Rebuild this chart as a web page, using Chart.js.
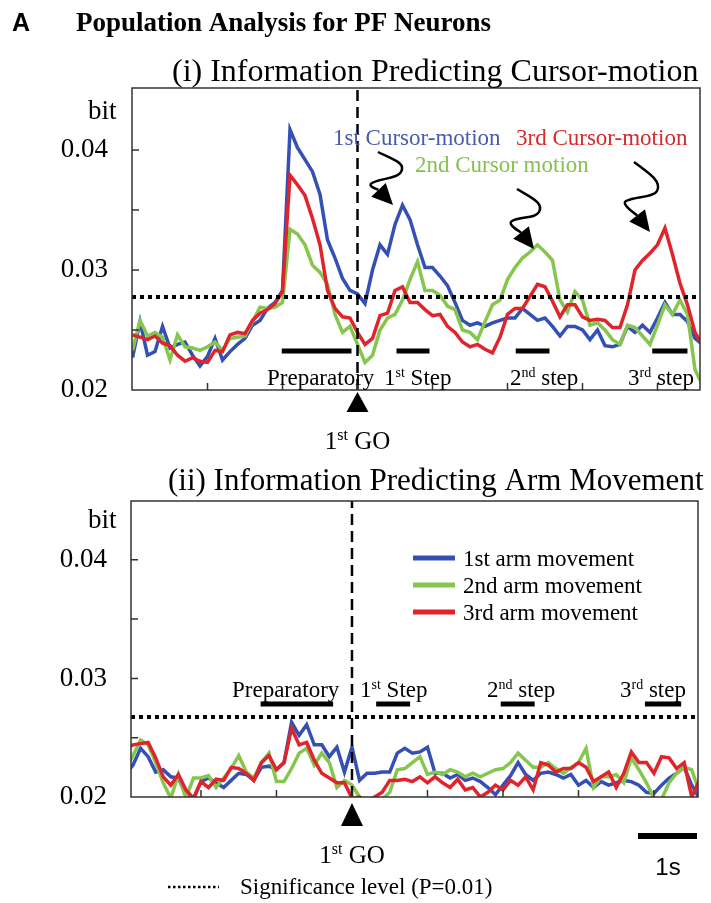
<!DOCTYPE html>
<html>
<head>
<meta charset="utf-8">
<script src="https://cdn.jsdelivr.net/npm/chart.js@4"></script>
<style>
  html, body { margin: 0; padding: 0; background: #fff; }
  #wrap { position: relative; width: 711px; height: 903px; }
  canvas { position: absolute; left: 0; }
  #cursorChart { top: 0; }
  #armChart { top: 460px; }
</style>
</head>
<body>
<div id="wrap">
  <canvas id="cursorChart" width="711" height="460"></canvas>
  <canvas id="armChart" width="711" height="443"></canvas>
</div>
<script>
// time axis in tick units, 1st GO at 0
const time = [
  -3.0, -2.9, -2.8, -2.7, -2.6, -2.5, -2.4, -2.3, -2.2, -2.1,
  -2.0, -1.9, -1.8, -1.7, -1.6, -1.5, -1.4, -1.3, -1.2, -1.1,
  -1.0, -0.9, -0.8, -0.7, -0.6, -0.5, -0.4, -0.3, -0.2, -0.1,
  0.0, 0.1, 0.2, 0.3, 0.4, 0.5, 0.6, 0.7, 0.8, 0.9,
  1.0, 1.1, 1.2, 1.3, 1.4, 1.5, 1.6, 1.7, 1.8, 1.9,
  2.0, 2.1, 2.2, 2.3, 2.4, 2.5, 2.6, 2.7, 2.8, 2.9,
  3.0, 3.1, 3.2, 3.3, 3.4, 3.5, 3.6, 3.7, 3.8, 3.9,
  4.0, 4.1, 4.2, 4.3, 4.4, 4.5, 4.6
];

// (i) information predicting cursor-motion (bit)
const cursor1 = [
  0.0227, 0.0257, 0.0229, 0.0232, 0.0253, 0.0235, 0.0238, 0.0240, 0.0229, 0.0220,
  0.0228, 0.0243, 0.0225, 0.0232, 0.0238, 0.0243, 0.0254, 0.0258, 0.0268, 0.0273,
  0.0283, 0.0417, 0.0402, 0.0392, 0.0382, 0.0363, 0.0325, 0.0310, 0.0293, 0.0283,
  0.0280, 0.0272, 0.0300, 0.0321, 0.0313, 0.0338, 0.0354, 0.0342, 0.0321, 0.0302,
  0.0302, 0.0295, 0.0287, 0.0273, 0.0258, 0.0254, 0.0256, 0.0253, 0.0256, 0.0258,
  0.0260, 0.0260, 0.0268, 0.0263, 0.0258, 0.0260, 0.0253, 0.0245, 0.0253, 0.0253,
  0.0250, 0.0242, 0.0250, 0.0237, 0.0236, 0.0238, 0.0253, 0.0248, 0.0254, 0.0248,
  0.0260, 0.0273, 0.0263, 0.0263, 0.0257, 0.0243, 0.0238
];
const cursor2 = [
  0.0233, 0.0258, 0.0245, 0.0248, 0.0244, 0.0225, 0.0246, 0.0236, 0.0235, 0.0233,
  0.0236, 0.0240, 0.0233, 0.0243, 0.0244, 0.0245, 0.0257, 0.0269, 0.0268, 0.0269,
  0.0273, 0.0334, 0.0330, 0.0321, 0.0304, 0.0298, 0.0288, 0.0263, 0.0248, 0.0253,
  0.0238, 0.0223, 0.0229, 0.0250, 0.0260, 0.0263, 0.0275, 0.0292, 0.0307, 0.0283,
  0.0283, 0.0279, 0.0270, 0.0267, 0.0250, 0.0248, 0.0242, 0.0257, 0.0271, 0.0275,
  0.0292, 0.0302, 0.0310, 0.0315, 0.0321, 0.0315, 0.0308, 0.0275, 0.0265, 0.0282,
  0.0275, 0.0254, 0.0256, 0.0250, 0.0242, 0.0238, 0.0254, 0.0252, 0.0245, 0.0238,
  0.0254, 0.0271, 0.0263, 0.0275, 0.0263, 0.0217, 0.0204
];
const cursor3 = [
  0.0246, 0.0244, 0.0242, 0.0245, 0.0239, 0.0237, 0.0229, 0.0224, 0.0227, 0.0224,
  0.0223, 0.0233, 0.0232, 0.0246, 0.0248, 0.0247, 0.0258, 0.0264, 0.0267, 0.0272,
  0.0282, 0.0379, 0.0371, 0.0362, 0.0343, 0.0321, 0.0283, 0.0268, 0.0261, 0.0260,
  0.0248, 0.0238, 0.0243, 0.0262, 0.0264, 0.0283, 0.0286, 0.0273, 0.0273, 0.0267,
  0.0262, 0.0263, 0.0253, 0.0248, 0.0240, 0.0236, 0.0238, 0.0234, 0.0231, 0.0244,
  0.0263, 0.0268, 0.0268, 0.0278, 0.0288, 0.0286, 0.0274, 0.0261, 0.0271, 0.0271,
  0.0261, 0.0258, 0.0259, 0.0258, 0.0252, 0.0252, 0.0271, 0.0300, 0.0308, 0.0314,
  0.0321, 0.0335, 0.0313, 0.0289, 0.0271, 0.0248, 0.0238
];

// (ii) information predicting arm movement (bit)
const arm1 = [
  0.0219, 0.0227, 0.0241, 0.0234, 0.0221, 0.0223, 0.0217, 0.0216, 0.0202, 0.0198,
  0.0213, 0.0216, 0.0212, 0.0208, 0.0214, 0.0220, 0.0219, 0.0214, 0.0225, 0.0226,
  0.0223, 0.0229, 0.0263, 0.0252, 0.0261, 0.0244, 0.0244, 0.0234, 0.0242, 0.0221,
  0.0242, 0.0214, 0.0220, 0.0220, 0.0221, 0.0221, 0.0237, 0.0241, 0.0237, 0.0238,
  0.0242, 0.0220, 0.0220, 0.0216, 0.0219, 0.0214, 0.0216, 0.0213, 0.0208, 0.0202,
  0.0210, 0.0218, 0.0229, 0.0219, 0.0214, 0.0220, 0.0221, 0.0219, 0.0216, 0.0219,
  0.0210, 0.0214, 0.0208, 0.0213, 0.0210, 0.0212, 0.0214, 0.0213, 0.0210, 0.0204,
  0.0203, 0.0210, 0.0216, 0.0220, 0.0225, 0.0210, 0.0199
];
const arm2 = [
  0.0223, 0.0235, 0.0248, 0.0244, 0.0229, 0.0212, 0.0199, 0.0219, 0.0199, 0.0216,
  0.0216, 0.0218, 0.0208, 0.0216, 0.0224, 0.0235, 0.0221, 0.0216, 0.0229, 0.0237,
  0.0213, 0.0213, 0.0224, 0.0237, 0.0241, 0.0227, 0.0237, 0.0229, 0.0208, 0.0214,
  0.0210, 0.0200, 0.0192, 0.0195, 0.0198, 0.0204, 0.0223, 0.0224, 0.0229, 0.0234,
  0.0219, 0.0221, 0.0219, 0.0223, 0.0221, 0.0217, 0.0220, 0.0217, 0.0220, 0.0223,
  0.0224, 0.0229, 0.0237, 0.0231, 0.0225, 0.0225, 0.0229, 0.0224, 0.0220, 0.0225,
  0.0229, 0.0241, 0.0208, 0.0217, 0.0217, 0.0219, 0.0212, 0.0233, 0.0223, 0.0212,
  0.0199, 0.0198, 0.0212, 0.0220, 0.0225, 0.0223, 0.0204
];
const arm3 = [
  0.0241, 0.0244, 0.0245, 0.0246, 0.0233, 0.0217, 0.0210, 0.0219, 0.0206, 0.0199,
  0.0213, 0.0208, 0.0215, 0.0214, 0.0225, 0.0224, 0.0220, 0.0214, 0.0229, 0.0235,
  0.0223, 0.0229, 0.0258, 0.0244, 0.0246, 0.0231, 0.0220, 0.0216, 0.0212, 0.0212,
  0.0199, 0.0200, 0.0196, 0.0200, 0.0204, 0.0214, 0.0214, 0.0215, 0.0213, 0.0217,
  0.0212, 0.0217, 0.0212, 0.0208, 0.0215, 0.0206, 0.0208, 0.0200, 0.0204, 0.0210,
  0.0206, 0.0214, 0.0210, 0.0217, 0.0206, 0.0229, 0.0227, 0.0221, 0.0224, 0.0224,
  0.0229, 0.0225, 0.0213, 0.0217, 0.0221, 0.0208, 0.0220, 0.0238, 0.0229, 0.0229,
  0.0220, 0.0234, 0.0233, 0.0224, 0.0229, 0.0200, 0.0214
];

// significance level (P=0.01)
const sigCursor = 0.02775;
const sigArm = 0.02675;

// epoch windows (time units): preparatory, 1st, 2nd, 3rd step
const epochStartCursor = [-1.01, 0.52, 2.11, 3.93];
const epochEndCursor = [-0.08, 0.96, 2.56, 4.40];
const epochStartArm = [-1.21, 0.32, 1.97, 3.88];
const epochEndArm = [-0.25, 0.77, 2.42, 4.36];
const epochLevelCursor = 0.02325;
const epochLevelArm = 0.02785;

const yTickLabels = ['0.02', '0.03', '0.04'];
const yMinorTicks = [0.025, 0.03, 0.035, 0.04];
const xTicks = [-2, -1, 0, 1, 2, 3, 4];

const BLUE = '#3550b4', GREEN = '#86c64f', RED = '#e0242b';
const SERIF = '"Liberation Serif", "Times New Roman", serif';
const SANS = '"Liberation Sans", Arial, sans-serif';

function series(values, color, order) {
  return {
    data: values.map((v, i) => ({ x: time[i], y: v })),
    borderColor: color, borderWidth: 3.5, pointRadius: 0, tension: 0, order: order, clip: 0
  };
}

function segment(x0, x1, y0, y1, opts) {
  return Object.assign({
    data: [{ x: x0, y: y0 }, { x: x1, y: y1 }],
    borderColor: '#000', pointRadius: 0, order: -1, clip: 0
  }, opts);
}

function buildDatasets(lines, sig, starts, ends, level, xMin, xMax, yMin, yMax) {
  const sets = [
    series(lines[0], BLUE, 3),
    series(lines[1], GREEN, 2),
    series(lines[2], RED, 1),
    segment(xMin, xMax, sig, sig, { borderWidth: 4, borderDash: [4, 4] }),
    segment(0, 0, yMin, yMax, { borderWidth: 2.5, borderDash: [11, 6] })
  ];
  starts.forEach((s, i) => sets.push(segment(s, ends[i], level, level, { borderWidth: 5 })));
  return sets;
}

function text(ctx, str, x, y, size, opts) {
  opts = opts || {};
  ctx.font = (opts.bold ? 'bold ' : '') + size + 'px ' + (opts.family || SERIF);
  ctx.fillStyle = opts.color || '#000';
  ctx.textAlign = opts.align || 'left';
  ctx.textBaseline = 'alphabetic';
  ctx.fillText(str, x, y);
}

// parts: [text, superscript?]
function supText(ctx, parts, x, y, size, align) {
  const fonts = parts.map(p => (p[1] ? Math.round(size * 0.62) : size) + 'px ' + SERIF);
  let w = 0;
  parts.forEach((p, i) => { ctx.font = fonts[i]; w += ctx.measureText(p[0]).width; });
  let cx = align === 'center' ? x - w / 2 : x;
  ctx.fillStyle = '#000';
  ctx.textAlign = 'left';
  ctx.textBaseline = 'alphabetic';
  parts.forEach((p, i) => {
    ctx.font = fonts[i];
    ctx.fillText(p[0], cx, p[1] ? y - size * 0.36 : y);
    cx += ctx.measureText(p[0]).width;
  });
}

function frame(chart) {
  const { ctx, chartArea: a, scales: { x, y } } = chart;
  ctx.save();
  ctx.strokeStyle = '#333';
  ctx.lineWidth = 1.5;
  ctx.strokeRect(a.left, a.top, a.right - a.left, a.bottom - a.top);
  ctx.beginPath();
  xTicks.forEach(t => {
    const px = x.getPixelForValue(t);
    ctx.moveTo(px, a.bottom);
    ctx.lineTo(px, a.bottom - 7);
  });
  yMinorTicks.forEach(v => {
    const py = y.getPixelForValue(v);
    ctx.moveTo(a.left, py);
    ctx.lineTo(a.left + 7, py);
  });
  ctx.stroke();
  ctx.restore();
}

function goMarker(chart, tipGap, baseGap, labelY) {
  const { ctx, chartArea: a, scales: { x } } = chart;
  const gx = x.getPixelForValue(0);
  ctx.save();
  ctx.fillStyle = '#000';
  ctx.beginPath();
  ctx.moveTo(gx, a.bottom + tipGap);
  ctx.lineTo(gx - 11, a.bottom + baseGap);
  ctx.lineTo(gx + 11, a.bottom + baseGap);
  ctx.closePath();
  ctx.fill();
  supText(ctx, [['1', false], ['st', true], [' GO', false]], gx, labelY, 25, 'center');
  ctx.restore();
}

// wavy arrow: start S, right turn R, left turn B, head tip T
function squiggle(ctx, S, R, B, T) {
  const dx = T[0] - B[0], dy = T[1] - B[1], len = Math.hypot(dx, dy);
  const ux = dx / len, uy = dy / len;
  const hx = T[0] - ux * 21, hy = T[1] - uy * 21;
  ctx.save();
  ctx.strokeStyle = '#000';
  ctx.fillStyle = '#000';
  ctx.lineWidth = 2.5;
  ctx.lineJoin = 'round';
  ctx.beginPath();
  ctx.moveTo(S[0], S[1]);
  ctx.bezierCurveTo(S[0] + (R[0] - S[0]) * 0.7, S[1] + (R[1] - S[1]) * 0.4, R[0] + 5, R[1] - 9, R[0], R[1]);
  ctx.bezierCurveTo(R[0] - 4, R[1] + 7, B[0] + 9, B[1] - 5, B[0], B[1]);
  ctx.quadraticCurveTo(B[0] - 5, B[1] + 3, hx, hy);
  ctx.stroke();
  ctx.beginPath();
  ctx.moveTo(T[0], T[1]);
  ctx.lineTo(hx - uy * 10, hy + ux * 10);
  ctx.lineTo(hx + uy * 10, hy - ux * 10);
  ctx.closePath();
  ctx.fill();
  ctx.restore();
}

function yAxis(min, max, width) {
  return {
    min: min, max: max,
    grid: { display: false, drawTicks: false },
    border: { display: false },
    ticks: {
      stepSize: 0.005, padding: 24, color: '#000',
      font: { family: SERIF, size: 27 },
      callback: v => yTickLabels.includes(v.toFixed(3).slice(0, 4)) && Math.abs(v * 100 - Math.round(v * 100)) < 1e-6 ? v.toFixed(2) : ''
    },
    afterFit: s => { s.width = width; }
  };
}

// ---------- (i) cursor-motion ----------
const cX = [-3.007, 4.567], cY = [0.02, 0.04517];
const cursorDecor = {
  id: 'cursorDecor',
  afterDraw(chart) {
    const ctx = chart.ctx;
    frame(chart);
    text(ctx, 'A', 12, 31, 25, { bold: true, family: SANS });
    text(ctx, 'Population Analysis for PF Neurons', 76, 31, 27, { bold: true });
    text(ctx, '(i) Information Predicting Cursor-motion', 172, 81, 32);
    text(ctx, 'bit', 88, 119, 27);
    text(ctx, '1st Cursor-motion', 333, 145, 23, { color: '#4a5aad' });
    text(ctx, '3rd Cursor-motion', 516, 145, 23, { color: '#d42a2a' });
    text(ctx, '2nd Cursor motion', 415, 172, 23, { color: '#86c150' });
    squiggle(ctx, [378, 152], [401, 172], [372, 183], [393, 205]);
    squiggle(ctx, [517, 189], [539, 212], [512, 221], [534, 249]);
    squiggle(ctx, [634, 162], [657, 191], [626, 201], [650, 232]);
    text(ctx, 'Preparatory', 267, 385, 23);
    supText(ctx, [['1', false], ['st', true], [' Step', false]], 384, 385, 23);
    supText(ctx, [['2', false], ['nd', true], [' step', false]], 510, 385, 23);
    supText(ctx, [['3', false], ['rd', true], [' step', false]], 628, 385, 23);
    goMarker(chart, 2, 22, 449);
  }
};

new Chart(document.getElementById('cursorChart'), {
  type: 'line',
  data: {
    datasets: buildDatasets([cursor1, cursor2, cursor3], sigCursor,
      epochStartCursor, epochEndCursor, epochLevelCursor, cX[0], cX[1], cY[0], cY[1])
  },
  options: {
    responsive: false,
    animation: false,
    layout: { padding: { left: 0, right: 11, top: 88, bottom: 70 } },
    plugins: { legend: { display: false }, tooltip: { enabled: false } },
    scales: {
      x: { type: 'linear', display: false, min: cX[0], max: cX[1] },
      y: yAxis(cY[0], cY[1], 132)
    }
  },
  plugins: [cursorDecor]
});

// ---------- (ii) arm movement ----------
const aX = [-2.927, 4.583], aY = [0.02, 0.04496];
const armDecor = {
  id: 'armDecor',
  afterDraw(chart) {
    const ctx = chart.ctx;
    frame(chart);
    text(ctx, '(ii) Information Predicting Arm Movement', 168, 30, 31);
    text(ctx, 'bit', 88, 68, 27);
    const legend = [['1st arm movement', BLUE], ['2nd arm movement', GREEN], ['3rd arm movement', RED]];
    legend.forEach((item, i) => {
      const ly = 98 + i * 27;
      ctx.save();
      ctx.strokeStyle = item[1];
      ctx.lineWidth = 5;
      ctx.beginPath();
      ctx.moveTo(413, ly);
      ctx.lineTo(455, ly);
      ctx.stroke();
      ctx.restore();
      text(ctx, item[0], 463, ly + 8, 23);
    });
    text(ctx, 'Preparatory', 232, 237, 23);
    supText(ctx, [['1', false], ['st', true], [' Step', false]], 360, 237, 23);
    supText(ctx, [['2', false], ['nd', true], [' step', false]], 487, 237, 23);
    supText(ctx, [['3', false], ['rd', true], [' step', false]], 620, 237, 23);
    goMarker(chart, 6, 29, 403);
    // 1 s scale bar
    ctx.save();
    ctx.fillStyle = '#000';
    ctx.fillRect(638, 373, 59, 6);
    ctx.restore();
    text(ctx, '1s', 668, 415, 24, { family: SANS, align: 'center' });
    // significance legend
    ctx.save();
    ctx.strokeStyle = '#000';
    ctx.lineWidth = 2.5;
    ctx.setLineDash([2.5, 2.5]);
    ctx.beginPath();
    ctx.moveTo(168, 427);
    ctx.lineTo(219, 427);
    ctx.stroke();
    ctx.restore();
    text(ctx, 'Significance level (P=0.01)', 240, 434, 23);
  }
};

new Chart(document.getElementById('armChart'), {
  type: 'line',
  data: {
    datasets: buildDatasets([arm1, arm2, arm3], sigArm,
      epochStartArm, epochEndArm, epochLevelArm, aX[0], aX[1], aY[0], aY[1])
  },
  options: {
    responsive: false,
    animation: false,
    layout: { padding: { left: 0, right: 13, top: 41, bottom: 106 } },
    plugins: { legend: { display: false }, tooltip: { enabled: false } },
    scales: {
      x: { type: 'linear', display: false, min: aX[0], max: aX[1] },
      y: yAxis(aY[0], aY[1], 131)
    }
  },
  plugins: [armDecor]
});
</script>
</body>
</html>
